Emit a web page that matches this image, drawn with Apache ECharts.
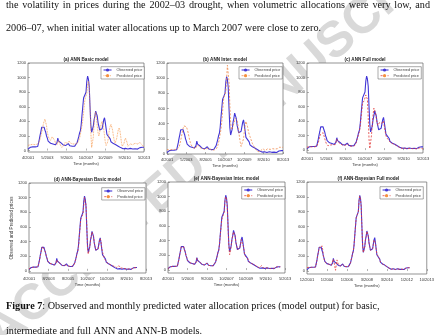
<!DOCTYPE html>
<html>
<head>
<meta charset="utf-8">
<script src="https://cdn.jsdelivr.net/npm/echarts@6/dist/echarts.min.js"></script>
<style>
  html, body { margin: 0; padding: 0; background: #fff; }
  #chart { width: 437px; height: 335px; }
</style>
</head>
<body>
<div id="chart"></div>
<script>
// observed monthly allocation price, 4/2001 .. 5/2013
const observed = [20,30,40,45,50,55,50,45,45,50,
  45,48,55,80,150,210,260,320,330,310,
  320,280,250,200,170,130,115,105,100,100,
  95,90,85,80,78,80,110,170,130,115,
  110,105,100,90,75,70,65,70,80,90,
  95,75,65,60,60,58,60,62,60,65,
  80,110,150,190,240,270,350,480,600,720,
  700,710,800,950,1020,980,880,600,350,250,
  260,330,420,470,540,530,470,380,330,280,
  270,280,300,360,420,450,380,300,220,200,
  190,175,160,120,110,100,95,90,85,80,
  75,70,60,55,50,40,35,30,25,30,
  35,30,25,20,20,25,30,30,28,25,
  22,20,22,25,25,22,20,25,30,40,
  50,55,45,40,45];

const predBasic = [70,75,80,80,80,82,85,80,78,80,
  82,85,90,100,120,160,200,250,300,360,
  400,430,420,340,250,200,170,150,140,160,
  190,200,180,140,110,90,80,110,140,110,
  80,60,40,30,50,80,110,130,120,100,
  110,130,120,100,90,85,90,100,95,90,
  85,90,110,130,170,220,280,340,420,520,
  640,720,700,780,900,950,880,600,250,40,
  20,180,350,480,530,450,330,240,200,250,
  320,370,400,380,300,200,110,70,60,120,
  200,280,330,360,350,280,200,140,100,110,
  160,220,280,310,280,200,110,60,50,90,
  140,170,160,110,60,40,60,90,110,100,
  80,70,80,100,120,110,90,80,90,110,
  120,100,70,60,55];

const predInter = [60,55,50,50,55,60,60,55,55,60,
  55,55,60,60,70,90,130,180,230,290,
  340,370,390,380,360,330,290,240,190,150,
  120,100,90,80,75,70,75,90,120,110,
  95,85,80,75,70,65,60,60,65,70,
  75,80,75,65,55,50,50,50,50,55,
  60,65,80,110,150,200,260,330,430,560,
  700,760,740,820,1000,1170,1150,950,650,420,
  320,300,340,400,440,470,480,440,380,300,
  220,150,100,80,110,200,300,380,430,420,
  360,300,260,230,200,170,140,120,100,80,
  60,50,40,30,25,30,40,50,60,70,
  60,50,45,50,60,70,75,70,60,55,
  60,70,75,70,65,60,65,70,75,80,
  90,95,90,85,95];

const predFull = [40,40,45,45,50,50,45,45,45,45,
  45,48,50,60,100,150,190,220,230,220,
  240,200,160,120,90,70,60,55,60,70,
  80,80,75,70,70,75,100,150,120,100,
  95,90,85,80,70,65,60,65,75,85,
  85,70,60,55,55,55,55,55,55,60,
  75,100,140,180,220,250,320,430,540,650,
  660,680,720,760,780,700,450,150,20,40,
  200,350,480,580,600,520,440,380,340,360,
  380,390,380,370,390,400,330,260,200,170,
  160,150,130,110,100,95,90,85,80,75,
  70,65,55,50,45,35,30,25,25,25,
  30,30,25,20,20,20,25,25,25,25,
  20,20,20,20,20,20,18,18,20,25,
  30,30,25,20,15];

const predBayesBasic = [25,30,38,45,50,52,50,46,45,48,
  46,48,55,75,140,200,250,300,330,320,
  315,285,250,205,170,135,115,105,100,98,
  95,90,85,82,78,80,100,150,135,115,
  110,105,98,90,78,70,66,70,78,88,
  92,78,66,60,60,58,60,62,60,64,
  78,105,145,185,235,265,330,450,580,700,
  690,700,780,900,1000,990,900,650,300,230,
  250,320,410,465,530,525,470,390,330,285,
  270,280,295,350,410,440,400,310,260,220,
  200,160,150,130,110,100,95,90,85,80,
  75,70,62,58,60,70,55,45,40,60,
  70,50,40,30,25,35,40,35,30,28,
  25,22,22,25,27,25,22,24,28,35,
  45,50,45,40,42];

const predBayesInter = [20,28,38,44,50,54,50,46,45,49,
  45,48,54,78,145,205,255,315,325,310,
  318,282,250,202,170,132,116,106,100,99,
  95,90,86,80,78,80,108,160,132,116,
  110,105,100,90,76,70,66,70,80,88,
  94,76,66,60,60,58,60,62,60,65,
  80,108,148,188,238,268,345,470,590,690,
  700,705,790,940,1000,970,860,580,330,210,
  250,330,420,470,520,520,470,380,330,280,
  270,280,300,355,415,440,390,310,230,190,
  180,170,160,130,110,100,95,90,85,80,
  75,70,60,55,50,42,38,32,30,45,
  60,45,30,25,55,30,28,30,28,25,
  22,20,22,25,25,22,20,25,30,38,
  48,52,45,40,44];

const predBayesFull = [45,45,48,50,52,55,50,45,45,50,
  45,48,55,80,145,205,255,315,325,305,
  310,340,290,210,160,125,110,105,100,98,
  95,90,85,82,78,80,100,160,120,60,
  10,80,150,120,85,72,66,70,78,92,
  90,75,66,60,60,58,60,62,60,65,
  80,110,150,190,240,270,350,480,600,715,
  700,710,800,950,1010,975,875,600,350,250,
  260,330,420,470,535,530,470,380,330,280,
  270,280,300,360,420,445,380,300,230,210,
  195,175,160,120,110,100,95,90,85,80,
  75,70,60,55,50,40,35,30,25,30,
  35,30,25,20,20,25,30,30,28,25,
  22,20,22,25,25,22,20,25,30,40,
  50,55,45,40,45];

const ticksA = ['4/2001','5/2003','9/2005','10/2007','10/2009','9/2010','5/2013'];
const ticksB = ['4/2001','5/2003','8/2005','10/2007','10/2009','8/2010','8/2013'];
const ticksC = ['4/2001','5/2003','8/2005','10/2007','10/2009','9/2010','5/2013'];
const ticksD = ['4/2001','8/2003','8/2005','10/2007','10/2009','8/2010','8/2013'];
const ticksE = ['4/2001','5/2003','9/2005','10/2007','10/2009','9/2010','5/2013'];
const ticksF = ['12/2001','1/2004','1/2006','3/2008','3/2010','1/2012','10/2013'];
const yTicks = [0, 200, 400, 600, 800, 1000, 1200];

const titles = ['(a) ANN Basic model', '(b) ANN Inter. model', '(c) ANN Full model',
  '(d) ANN-Bayesian Basic model', '(e) ANN-Bayesian Inter. model', '(f) ANN-Bayesian Full model'];

const obsColor = '#4236d6';
const orange = '#f5913f';
const red = '#e23a3a';

// layout of the six axes (px): left, top, width, height
const panels = [
  { box: [28, 63, 116, 89], xMax: 144, step: 24, yMin: -20, ticks: ticksA, pred: predBasic, color: orange, dash: 'dotted', leg: [101, 66.7] },
  { box: [167, 63, 116, 91], xMax: 144, step: 24, yMin: 0, ticks: ticksB, pred: predInter, color: '#f08a4c', dash: [2, 1.5], leg: [239, 66.7] },
  { box: [307, 63, 116, 90], xMax: 144, step: 24, yMin: -40, ticks: ticksC, pred: predFull, color: red, dash: [2, 1.5], leg: [378, 66.7] },
  { box: [29, 183, 117, 90], xMax: 156, step: 26, yMin: -30, ticks: ticksD, pred: predBayesBasic, color: red, dash: [2, 1.5], leg: [101.7, 187.7] },
  { box: [168, 182, 117, 91], xMax: 150, step: 25, yMin: -40, ticks: ticksE, pred: predBayesInter, color: red, dash: [2, 1.5], leg: [241.7, 186.7] },
  { box: [307, 182, 123, 92], xMax: 168, step: 28, yMin: -40, ticks: ticksF, pred: predBayesFull, color: red, dash: [2, 1.5], leg: [380, 186.7] }
];

const sans = 'Liberation Sans';
const serif = 'Liberation Serif';

const grid = [], xAxis = [], yAxis = [], series = [], legend = [], graphic = [];

panels.forEach(function (p, i) {
  grid.push({
    left: p.box[0], top: p.box[1], width: p.box[2], height: p.box[3],
    show: true, backgroundColor: '#fff', borderColor: '#666', borderWidth: 0.7
  });
  xAxis.push({
    type: 'value', gridIndex: i, min: 0, max: p.xMax, interval: p.step,
    name: 'Time (months)', nameLocation: 'middle', nameGap: 9.5,
    nameTextStyle: { fontSize: 4, color: '#333', fontFamily: sans },
    axisLine: { show: false },
    axisTick: { show: true, inside: true, length: 2, lineStyle: { color: '#666', width: 0.5 } },
    axisLabel: {
      fontSize: 4, color: '#333', fontFamily: sans, margin: 4,
      formatter: function (v) { return p.ticks[Math.round(v / p.step)] || ''; }
    },
    splitLine: { show: false }
  });
  yAxis.push({
    type: 'value', gridIndex: i, min: p.yMin, max: 1200,
    name: i === 3 ? 'Observed and Predicted prices' : '',
    nameLocation: 'middle', nameGap: 12,
    nameTextStyle: { fontSize: 4.6, color: '#333', fontFamily: sans },
    axisLine: { show: false },
    axisTick: { show: true, inside: true, length: 2, customValues: yTicks, lineStyle: { color: '#666', width: 0.5 } },
    axisLabel: {
      fontSize: 4, color: '#333', fontFamily: sans, margin: 2, customValues: yTicks,
      formatter: function (v) { return String(v); }
    },
    splitLine: { show: false }
  });
  series.push({
    type: 'line', name: 'Observed price', xAxisIndex: i, yAxisIndex: i,
    data: observed.map(function (v, k) { return [k, v]; }),
    symbol: 'none', silent: true,
    lineStyle: { color: obsColor, width: 1.1 }, itemStyle: { color: obsColor }
  });
  series.push({
    type: 'line', name: 'Predicted price', xAxisIndex: i, yAxisIndex: i,
    data: p.pred.map(function (v, k) { return [k, v]; }),
    symbol: 'none', silent: true,
    lineStyle: { color: p.color, width: 0.8, type: p.dash }, itemStyle: { color: p.color }
  });
  legend.push({
    left: p.leg[0], top: p.leg[1], orient: 'vertical', selectedMode: false,
    itemWidth: 8, itemHeight: 4, itemGap: 1.7, padding: [1.3, 2],
    borderColor: '#555', borderWidth: 0.5, backgroundColor: '#fff',
    textStyle: { fontSize: 3.8, color: '#444', fontFamily: sans },
    data: [
      { name: 'Observed price', lineStyle: { color: obsColor, width: 1.1, type: 'solid' } },
      { name: 'Predicted price', lineStyle: { color: p.color, width: 0.8, type: p.dash } }
    ]
  });
  graphic.push({
    type: 'text', x: p.box[0] + p.box[2] / 2, y: p.box[1] - 3, z: 20, silent: true,
    style: { text: titles[i], font: 'bold 4.6px "' + sans + '"', fill: '#222', align: 'center', verticalAlign: 'middle' }
  });
});

// page text around the figure
const bodyFont = '10.2px "' + serif + '"';
const measure = document.createElement('canvas').getContext('2d');
measure.font = bodyFont;

function justified(text, y, x0, x1) {
  const words = text.split(' ');
  const widths = words.map(function (w) { return measure.measureText(w).width; });
  const total = widths.reduce(function (a, b) { return a + b; }, 0);
  const gap = (x1 - x0 - total) / (words.length - 1);
  let x = x0;
  words.forEach(function (w, k) {
    graphic.push({
      type: 'text', x: x, y: y, z: 30, silent: true,
      style: { text: w, font: bodyFont, fill: '#111', align: 'left', verticalAlign: 'middle' }
    });
    x += widths[k] + gap;
  });
}

justified('the volatility in prices during the 2002\u201303 drought, when volumetric allocations were very low, and', 5.5, 6, 430);

graphic.push({
  type: 'text', x: 6, y: 28.5, z: 30, silent: true,
  style: { text: '2006\u201307, when initial water allocations up to March 2007 were close to zero.', font: bodyFont, fill: '#111', verticalAlign: 'middle' }
});
graphic.push({
  type: 'text', x: 6, y: 306, z: 30, silent: true,
  style: {
    text: '{b|Figure 7}: Observed and monthly predicted water allocation prices (model output) for basic,',
    font: bodyFont, fill: '#111', verticalAlign: 'middle',
    rich: { b: { fontWeight: 'bold', fontSize: 10.2, fontFamily: serif, fill: '#111' } }
  }
});
graphic.push({
  type: 'text', x: 6, y: 331, z: 30, silent: true,
  style: { text: 'intermediate and full ANN and ANN-B models.', font: bodyFont, fill: '#111', verticalAlign: 'middle' }
});

// faint diagonal watermark behind everything
graphic.push({
  type: 'text', x: 228, y: 136, rotation: 41 * Math.PI / 180, z: -10, silent: true,
  style: { text: 'ACCEPTED MANUSCRIPT', font: 'bold 50px "' + sans + '"', fill: '#d9d9d9', align: 'center', verticalAlign: 'middle' }
});

const chart = echarts.init(document.getElementById('chart'), null, { renderer: 'canvas' });
chart.setOption({
  animation: false,
  backgroundColor: '#fff',
  grid: grid,
  xAxis: xAxis,
  yAxis: yAxis,
  legend: legend,
  series: series,
  graphic: graphic
});
</script>
</body>
</html>
